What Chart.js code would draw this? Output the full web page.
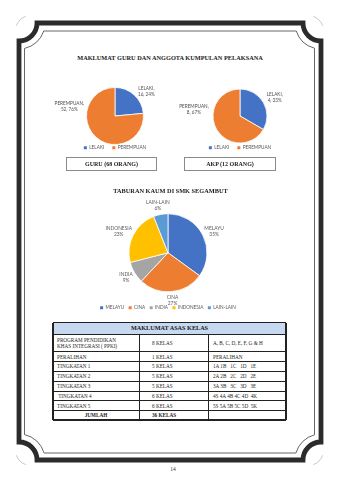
<!DOCTYPE html>
<html>
<head>
<meta charset="utf-8">
<script src="https://cdn.jsdelivr.net/npm/chart.js@4.4.1/dist/chart.umd.min.js"></script>
<style>
  html, body { margin: 0; padding: 0; background: #fff; }
  body { width: 339px; height: 480px; position: relative; overflow: hidden; font-family: 'Liberation Serif', serif; color: #222; }
  .abs { position: absolute; white-space: nowrap; }
  .head { font-weight: bold; font-size: 6.3px; line-height: 8px; text-align: center; color: #1a1a1a; }
  .box { border: 0.8px solid #8a8a8a; font-weight: bold; font-size: 6px; text-align: center; line-height: 12px; box-sizing: border-box; color: #1a1a1a; }
  canvas { position: absolute; }
  .cell { position: absolute; display: flex; align-items: center; font-size: 5.2px; line-height: 6px; color: #262626; white-space: pre; }
  .hl { position: absolute; background: #222; }
</style>
</head>
<body>

<svg class="abs" width="339" height="480" style="left:0;top:0" id="frame"></svg>

<div class="abs head" style="left:0;top:54px;width:340px">MAKLUMAT GURU DAN ANGGOTA KUMPULAN PELAKSANA</div>

<canvas id="guruChart" width="150" height="85" style="left:40px;top:75px"></canvas>
<canvas id="akpChart" width="150" height="85" style="left:165px;top:75px"></canvas>

<div class="abs box" style="left:66px;top:157px;width:91px;height:13.5px">GURU (68 ORANG)</div>
<div class="abs box" style="left:184px;top:157px;width:92px;height:13.5px">AKP (12 ORANG)</div>

<div class="abs head" style="left:0;top:187px;width:341px">TABURAN KAUM DI SMK SEGAMBUT</div>

<canvas id="kaumChart" width="216" height="125" style="left:60px;top:195px"></canvas>

<div id="jadual"></div>

<div class="abs" style="left:0;top:466px;width:346px;text-align:center;font-size:5.5px;color:#333">14</div>

<script>
// Guru
var guruLabels = ['LELAKI', 'PEREMPUAN'];
var guruValues = [16, 52];

// AKP
var akpLabels = ['LELAKI', 'PEREMPUAN'];
var akpValues = [4, 8];

// Taburan kaum (%)
var kaumLabels = ['MELAYU', 'CINA', 'INDIA', 'INDONESIA', 'LAIN-LAIN'];
var kaumValues = [35, 27, 9, 23, 6];

var genderColors = ['#4472C4', '#ED7D31'];
var kaumColors = ['#4472C4', '#ED7D31', '#A5A5A5', '#FFC000', '#5B9BD5'];

// Maklumat asas kelas
var kelasNama = ['PROGRAM PENDIDIKAN\nKHAS INTEGRASI ( PPKI)', 'PERALIHAN', 'TINGKATAN 1', 'TINGKATAN 2', 'TINGKATAN 3', ' TINGKATAN 4', 'TINGKATAN 5'];
var kelasBilangan = [8, 1, 5, 5, 5, 6, 6];
var kelasSenarai = ['A, B, C, D, E, F, G & H', 'PERALIHAN', '1A 1B   1C   1D   1E', '2A 2B   2C   2D   2E', '3A 3B   3C   3D   3E', '4S 4A 4B 4C 4D  4K', '5S 5A 5B 5C 5D  5K'];

// Frame round the page
(function() {
    var svg = document.getElementById('frame');
    function cove(L, T, R, B, cx0, cy0, cx1, cy1, r) {
        // cove arcs are centred on the outer corners
        var dyL = Math.sqrt(r * r - (L - cx0) * (L - cx0));
        var dxT = Math.sqrt(r * r - (T - cy0) * (T - cy0));
        var dyR = Math.sqrt(r * r - (cx1 - R) * (cx1 - R));
        var dxB = Math.sqrt(r * r - (cy1 - B) * (cy1 - B));
        return 'M' + (cx0 + dxT) + ' ' + T + ' H' + (cx1 - dxT) +
            ' A' + r + ' ' + r + ' 0 0 0 ' + R + ' ' + (cy0 + dyR) +
            ' V' + (cy1 - dyR) +
            ' A' + r + ' ' + r + ' 0 0 0 ' + (cx1 - dxB) + ' ' + B +
            ' H' + (cx0 + dxB) +
            ' A' + r + ' ' + r + ' 0 0 0 ' + L + ' ' + (cy1 - dyL) +
            ' V' + (cy0 + dyL) +
            ' A' + r + ' ' + r + ' 0 0 0 ' + (cx0 + dxT) + ' ' + T + ' Z';
    }
    var html = '';
    html += '<path d="' + cove(19, 23, 321, 460, 19, 23, 321, 460, 18) + '" fill="none" stroke="#2b2b2b" stroke-width="4.8"/>';
    html += '<path d="' + cove(24.5, 31, 314.5, 453, 19, 23, 321, 460, 26) + '" fill="none" stroke="#555" stroke-width="0.9"/>';
    // faint arcs outside the corners
    html += '<path d="M16.4 25.7 A15.5 15.5 0 0 1 25.7 16.4" fill="none" stroke="#bbb" stroke-width="0.8"/>';
    html += '<path d="M313.3 16.4 A15.5 15.5 0 0 1 322.6 25.7" fill="none" stroke="#bbb" stroke-width="0.8"/>';
    html += '<path d="M16.4 455.3 A15.5 15.5 0 0 0 25.7 464.6" fill="none" stroke="#bbb" stroke-width="0.8"/>';
    html += '<path d="M313.3 464.6 A15.5 15.5 0 0 0 322.6 455.3" fill="none" stroke="#bbb" stroke-width="0.8"/>';
    svg.innerHTML = html;
})();

// Labels outside the slices, like Excel
var pieLabels = {
    id: 'pieLabels',
    afterDatasetsDraw: function(chart, args, opts) {
        var ctx = chart.ctx;
        var meta = chart.getDatasetMeta(0);
        var data = chart.data.datasets[0].data;
        var total = data.reduce(function(a, b) { return a + b; }, 0);
        ctx.save();
        ctx.font = opts.size + 'px Lato';
        ctx.fillStyle = opts.color;
        ctx.textAlign = 'center';
        ctx.textBaseline = 'middle';
        meta.data.forEach(function(arc, i) {
            var p = arc.getProps(['x', 'y', 'startAngle', 'endAngle', 'outerRadius'], true);
            var a = (p.startAngle + p.endAngle) / 2;
            if (opts.angles && opts.angles[i] != null) a = opts.angles[i] * Math.PI / 180 - Math.PI / 2;
            var pct = Math.round(data[i] / total * 100);
            var lines = opts.format(chart.data.labels[i], data[i], pct);
            var w = Math.max.apply(null, lines.map(function(l) { return ctx.measureText(l).width; }));
            var h = lines.length * opts.lineHeight;
            var ax = p.x + Math.cos(a) * (p.outerRadius + opts.gap);
            var ay = p.y + Math.sin(a) * (p.outerRadius + opts.gap);
            var cx = ax + Math.cos(a) * w / 2;
            var cy = ay + Math.sin(a) * h / 2;
            lines.forEach(function(l, k) {
                ctx.fillText(l, cx, cy - h / 2 + opts.lineHeight * (k + 0.5));
            });
        });
        ctx.restore();
    }
};

function legendOpts(pad) {
    return {
        position: 'bottom',
        labels: {
            font: { family: 'Lato', size: 4.7 },
            color: '#595959',
            boxWidth: 3,
            boxHeight: 3,
            padding: pad,
            generateLabels: function(chart) {
                return Chart.overrides.pie.plugins.legend.labels.generateLabels(chart).map(function(l) {
                    l.lineWidth = 0;
                    return l;
                });
            }
        }
    };
}

function makePie(id, labels, values, colors, radius, padTop, legendPad, labelOpts) {
    return new Chart(document.getElementById(id), {
        type: 'pie',
        data: {
            labels: labels,
            datasets: [{
                data: values,
                backgroundColor: colors,
                borderColor: '#fff',
                borderWidth: 0.8
            }]
        },
        options: {
            responsive: false,
            animation: false,
            radius: radius,
            layout: { padding: { top: padTop } },
            plugins: {
                legend: legendOpts(legendPad),
                tooltip: { enabled: false },
                pieLabels: labelOpts
            }
        },
        plugins: [pieLabels]
    });
}

var genderFormat = function(label, value, pct) { return [label + ',', value + ', ' + pct + '%']; };

makePie('guruChart', guruLabels, guruValues, genderColors, 28.5, 19.7, 8, {
    size: 4.7, lineHeight: 6, gap: 4, color: '#505050', format: genderFormat, angles: [50, 285]
});
makePie('akpChart', akpLabels, akpValues, genderColors, 27, 19.7, 8, {
    size: 4.7, lineHeight: 6, gap: 5, color: '#505050', format: genderFormat, angles: [null, 280]
});
makePie('kaumChart', kaumLabels, kaumValues, kaumColors, 39, 9.7, 4.5, {
    size: 4.9, lineHeight: 6, gap: 3, color: '#595959',
    format: function(label, value, pct) { return [label, pct + '%']; }
});

// Table
(function() {
    var box = document.getElementById('jadual');
    var colX = [53, 139, 208, 286];
    var rowH = [11.3, 17.7, 9.8, 9.8, 9.8, 9.9, 9.9, 9.8, 9.3];
    var top = 322.7;
    var rowY = [top];
    rowH.forEach(function(h) { rowY.push(rowY[rowY.length - 1] + h); });
    var bottom = rowY[rowY.length - 1];
    var html = '';
    html += '<div class="abs" style="left:' + colX[0] + 'px;top:' + top + 'px;width:' + (colX[3] - colX[0]) + 'px;height:' + rowH[0] + 'px;background:#c6d9f1"></div>';
    html += '<div class="cell" style="left:' + colX[0] + 'px;top:' + top + 'px;width:' + (colX[3] - colX[0]) + 'px;height:' + rowH[0] + 'px;justify-content:center;font-weight:bold;font-size:6.2px;color:#1a1a1a">MAKLUMAT ASAS KELAS</div>';

    var total = kelasBilangan.reduce(function(a, b) { return a + b; }, 0);
    var names = kelasNama.concat(['JUMLAH']);
    var counts = kelasBilangan.map(function(n) { return n + ' KELAS'; }).concat([total + ' KELAS']);
    var lists = kelasSenarai.concat(['']);
    names.forEach(function(n, i) {
        var y = rowY[i + 1], h = rowH[i + 1];
        var last = i === names.length - 1;
        var bold = last ? 'font-weight:bold;color:#1a1a1a;' : '';
        html += '<div class="cell" style="left:' + colX[0] + 'px;top:' + y + 'px;width:' + (colX[1] - colX[0]) + 'px;height:' + h + 'px;' + bold + (last ? 'justify-content:center;' : 'padding-left:4px;box-sizing:border-box;') + '">' + n + '</div>';
        html += '<div class="cell" style="left:' + (colX[1] + 13) + 'px;top:' + y + 'px;height:' + h + 'px;' + bold + '">' + counts[i] + '</div>';
        html += '<div class="cell" style="left:' + (colX[2] + 5) + 'px;top:' + y + 'px;height:' + h + 'px">' + lists[i] + '</div>';
    });
    // grid lines
    rowY.forEach(function(y, i) {
        var t = (i === 0 || i === rowY.length - 1) ? 1.3 : 0.9;
        html += '<div class="hl" style="left:' + colX[0] + 'px;top:' + (y - t / 2) + 'px;width:' + (colX[3] - colX[0]) + 'px;height:' + t + 'px"></div>';
    });
    colX.forEach(function(x, i) {
        var t = (i === 0 || i === colX.length - 1) ? 1.3 : 0.9;
        var y0 = (i === 1 || i === 2) ? rowY[1] : top;
        html += '<div class="hl" style="left:' + (x - t / 2) + 'px;top:' + y0 + 'px;width:' + t + 'px;height:' + (bottom - y0) + 'px"></div>';
    });
    box.innerHTML = html;
})();
</script>
</body>
</html>
